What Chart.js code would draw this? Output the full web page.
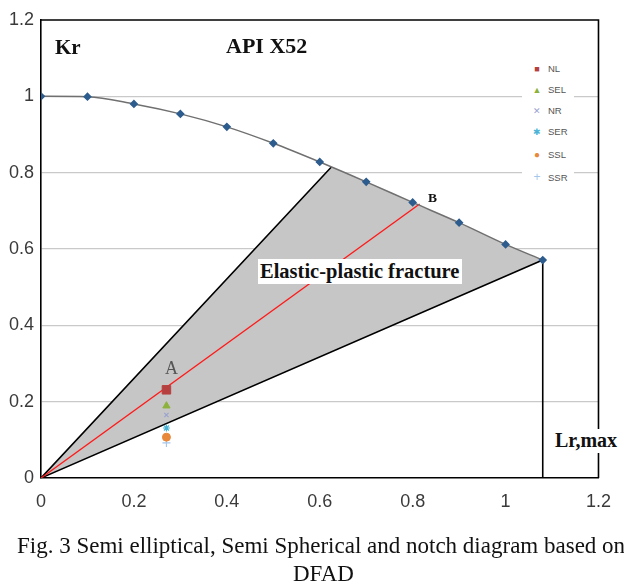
<!DOCTYPE html>
<html>
<head>
<meta charset="utf-8">
<script src="https://cdn.jsdelivr.net/npm/chart.js@4.4.1/dist/chart.umd.min.js"></script>
<style>
  html, body { margin: 0; padding: 0; background: #fff; }
  #wrap { position: relative; width: 624px; height: 586px; overflow: hidden; background: #fff; }
  #c { position: absolute; left: 0; top: 0; }
  .lbl { position: absolute; font-family: "Liberation Serif", "Times New Roman", serif; white-space: nowrap; line-height: 1; }
  .b { font-weight: bold; color: #111; }
  #legend { position: absolute; left: 522px; top: 57px; width: 52px; height: 132px; background: #fff; font-family: "Liberation Sans", Arial, sans-serif; font-size: 9.5px; color: #555; }
  #legend div { position: absolute; left: 0; height: 12px; line-height: 12px; }
  #legend span.m { display: inline-block; width: 14px; text-align: center; margin-left: 8px; margin-right: 4px; }
</style>
</head>
<body>
<div id="wrap">
  <canvas id="c" width="624" height="586"></canvas>
  <div class="lbl b" style="left:55px; top:37px; font-size:21px;">Kr</div>
  <div class="lbl b" style="left:226px; top:35px; font-size:22px;">API X52</div>
  <div class="lbl b" style="left:258px; top:259px; font-size:20.5px; background:#fff; padding:2px 3px 2px 2px;">Elastic-plastic fracture</div>
  <div class="lbl" style="left:165px; top:359px; font-size:18px; color:#555;">A</div>
  <div class="lbl b" style="left:428px; top:191px; font-size:13.5px;">B</div>
  <div class="lbl b" style="left:553px; top:429px; font-size:20px; background:#fff; padding:1px 3px 3px 2px;">Lr,max</div>
  <div id="legend"></div>
  <div class="lbl" style="left:17px; top:534px; font-size:23px; color:#111;">Fig. 3 Semi elliptical, Semi Spherical and notch diagram based on</div>
  <div class="lbl" style="left:293px; top:562px; font-size:23px; color:#111;">DFAD</div>
</div>
<script>
// ---- data ----
const curveLr = [0, 0.1, 0.2, 0.3, 0.4, 0.5, 0.6, 0.7, 0.8, 0.9, 1.0, 1.08];
const curveKr = [1.0, 0.999, 0.98, 0.954, 0.92, 0.877, 0.828, 0.776, 0.722, 0.669, 0.612, 0.571];
const regionLr = [0, 0.625, 0.7, 0.8, 0.9, 1.0, 1.08, 0];
const regionKr = [0, 0.815, 0.776, 0.722, 0.669, 0.612, 0.571, 0];
const boundLr = [0.625, 0, 1.08, 1.08];
const boundKr = [0.815, 0, 0.571, 0];
const loadLr = [0, 0.815];
const loadKr = [0, 0.718];
const seriesNames = ['NL', 'SEL', 'NR', 'SER', 'SSL', 'SSR'];
const seriesLr = [0.27, 0.27, 0.27, 0.27, 0.27, 0.27];
const seriesKr = [0.231, 0.189, 0.165, 0.131, 0.107, 0.092];
const seriesColors = ['#b5403f', '#8db23c', '#9aa2d0', '#4bb4d6', '#e8883a', '#a5c6ea'];
const seriesStyles = ['rect', 'triangle', 'crossRot', 'star', 'circle', 'cross'];
const legendGlyphs = ['\u25A0', '\u25B2', '\u2715', '\u2731', '\u25CF', '+'];
const xTicks = [0, 0.2, 0.4, 0.6, 0.8, 1, 1.2];
const yTicks = [0, 0.2, 0.4, 0.6, 0.8, 1, 1.2];

const pts = (xs, ys) => xs.map((x, i) => ({ x: x, y: ys[i] }));

const markerSets = seriesNames.map((name, i) => ({
  label: name,
  data: [{ x: seriesLr[i], y: seriesKr[i] }],
  pointStyle: seriesStyles[i],
  pointRadius: [6, 4.2, 3, 3.5, 4, 4][i],
  backgroundColor: seriesColors[i],
  borderColor: seriesColors[i],
  borderWidth: (i === 2 || i === 3 || i === 5) ? 1.2 : 1,
  showLine: false,
  order: 0
}));

const frame = {
  id: 'frame',
  afterDatasetsDraw(chart) {
    const a = chart.chartArea;
    const ctx = chart.ctx;
    ctx.save();
    ctx.strokeStyle = '#000';
    ctx.lineWidth = 1.6;
    ctx.beginPath();
    ctx.moveTo(a.left, a.top);
    ctx.lineTo(a.right, a.top);
    ctx.lineTo(a.right, a.bottom);
    ctx.stroke();
    ctx.restore();
  }
};

new Chart(document.getElementById('c'), {
  type: 'scatter',
  data: {
    datasets: [
      ...markerSets,
      {
        label: 'FAD',
        data: pts(curveLr, curveKr),
        showLine: true,
        borderColor: '#707070',
        borderWidth: 1.5,
        cubicInterpolationMode: 'monotone',
        pointStyle: 'rectRot',
        pointRadius: 3.3,
        backgroundColor: '#2d5c8e',
        pointBorderColor: '#2d5c8e',
        order: 1
      },
      {
        label: 'load',
        data: pts(loadLr, loadKr),
        showLine: true,
        borderColor: '#ff1a1a',
        borderWidth: 1.4,
        pointRadius: 0,
        order: 2
      },
      {
        label: 'bounds',
        data: pts(boundLr, boundKr),
        showLine: true,
        borderColor: '#000',
        borderWidth: 1.6,
        pointRadius: 0,
        order: 3
      },
      {
        label: 'region',
        data: pts(regionLr, regionKr),
        showLine: true,
        borderWidth: 0,
        borderColor: 'rgba(0,0,0,0)',
        backgroundColor: '#c6c6c6',
        fill: 'shape',
        pointRadius: 0,
        order: 4
      }
    ]
  },
  options: {
    responsive: false,
    animation: false,
    events: [],
    layout: { padding: { left: 0, right: 22, top: 20, bottom: 68 } },
    plugins: { legend: { display: false }, tooltip: { enabled: false } },
    scales: {
      x: {
        type: 'linear', min: 0, max: 1.2,
        afterFit(s) { s.height = 40; },
        afterBuildTicks(s) { s.ticks = xTicks.map(v => ({ value: v })); },
        grid: { display: false, drawTicks: false },
        border: { display: true, color: '#000', width: 1.6 },
        ticks: { padding: 13, color: '#3a3a3a', font: { family: 'Liberation Sans', size: 18 }, maxRotation: 0,
          callback: v => String(+v.toFixed(1)) }
      },
      y: {
        type: 'linear', min: 0, max: 1.2,
        afterFit(s) { s.width = 41; },
        afterBuildTicks(s) { s.ticks = yTicks.map(v => ({ value: v })); },
        grid: { drawTicks: false, lineWidth: 1.3,
          color: c => (c.tick && c.tick.value > 0.01 && c.tick.value < 1.19) ? '#c9c9c9' : 'rgba(0,0,0,0)' },
        border: { display: true, color: '#000', width: 1.6 },
        ticks: { padding: 7, color: '#3a3a3a', font: { family: 'Liberation Sans', size: 18 },
          callback: v => String(+v.toFixed(1)) }
      }
    }
  },
  plugins: [frame]
});

// HTML legend (text kept as real text)
const lg = document.getElementById('legend');
seriesNames.forEach((n, i) => {
  const d = document.createElement('div');
  d.style.top = [6, 27, 48, 69, 92, 114][i] + 'px';
  const m = document.createElement('span');
  m.className = 'm';
  m.style.color = seriesColors[i];
  m.style.fontSize = (i === 4 ? 10 : (i === 5 ? 12 : 9)) + 'px';
  m.textContent = legendGlyphs[i];
  d.appendChild(m);
  d.appendChild(document.createTextNode(n));
  lg.appendChild(d);
});
</script>
</body>
</html>
